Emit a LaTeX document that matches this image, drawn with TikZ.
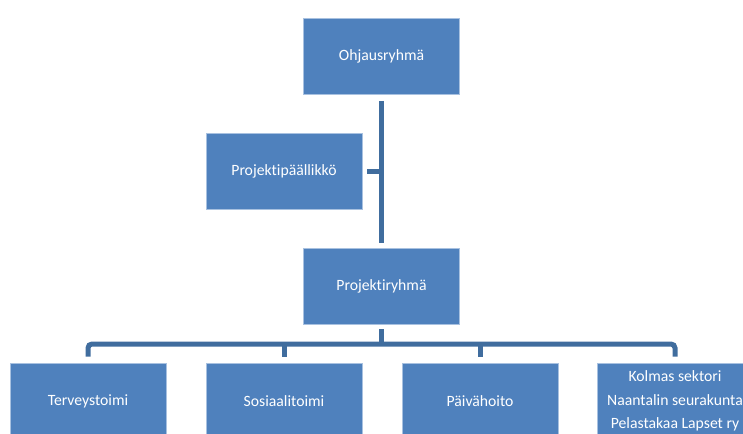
\documentclass[tikz,border=0pt]{standalone}
\usepackage{fontspec}
\setmainfont[Ligatures=NoCommon]{Carlito}
\definecolor{boxblue}{RGB}{79,129,189}
\definecolor{boxedge}{RGB}{168,193,224}
\definecolor{linkblue}{RGB}{64,109,158}
\begin{document}
\begin{tikzpicture}[x=1pt,y=-1pt,
  orgbox/.style={rectangle, fill=boxblue, draw=boxedge, line width=0.8pt,
    minimum width=156pt, minimum height=76pt, inner sep=0pt,
    text=white, align=center, font=\fontsize{15.7}{23.5}\selectfont},
  conn/.style={draw=linkblue, line width=5pt}]
\useasboundingbox (0,0) rectangle (743,433);
\clip (0,0) rectangle (743,433);

% upper levels
\node[orgbox] (ohj) at (381.5,56.5) {Ohjausryhmä};
\node[orgbox] (pp)  at (284,171.5)  {Projektipäällikkö};
\node[orgbox] (prg) at (381.5,286)  {Projektiryhmä};

% bottom row
\node[orgbox] (b1) at (88,401)  {Terveystoimi};
\node[orgbox] (b2) at (284,401) {Sosiaalitoimi};
\node[orgbox] (b3) at (480,401) {Päivähoito};
\node[orgbox] (b4) at (675,401) {Kolmas sektori\\Naantalin seurakunta\\Pelastakaa Lapset ry};

% trunk with assistant branch
\draw[conn, shorten <=6pt, shorten >=5pt] (ohj.south) -- (prg.north);
\draw[conn] ([xshift=5pt]pp.east) -- (pp.east -| ohj.south);

% bus to the bottom row
\coordinate (bus) at (381.5,344);
\draw[conn] ([yshift=-5pt]prg.south) -- (bus);
\draw[conn, rounded corners=4pt] ([yshift=6pt]b1.north) |- (bus) -| ([yshift=6pt]b4.north);
\draw[conn] (bus -| b2.north) -- ([yshift=6pt]b2.north);
\draw[conn] (bus -| b3.north) -- ([yshift=6pt]b3.north);
\end{tikzpicture}
\end{document}
